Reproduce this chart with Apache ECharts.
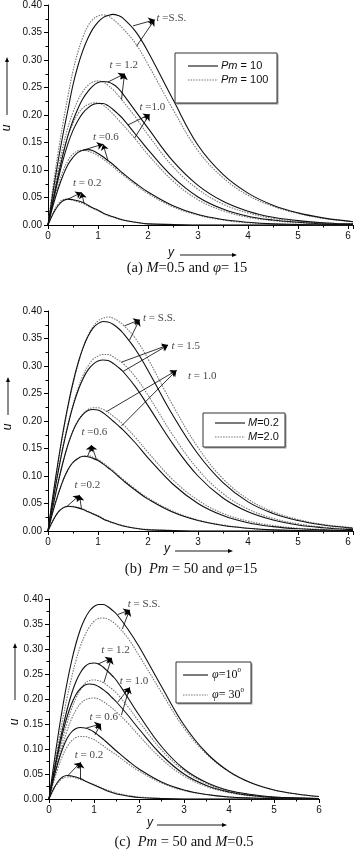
<!DOCTYPE html>
<html>
<head>
<meta charset="utf-8">
<script src="https://cdn.jsdelivr.net/npm/echarts@6/dist/echarts.min.js"></script>
<style>
html,body{margin:0;padding:0;background:#fff;}
#c{width:355px;height:850px;}
</style>
</head>
<body>
<div id="c"></div>
<script>
// ---- x grids (y coordinate) ----
const XAB = [0,0.1,0.2,0.3,0.4,0.5,0.6,0.7,0.8,0.9,1.0,1.1,1.2,1.3,1.4,1.5,1.75,2,2.5,3,3.5,4,4.5,5,5.5,6,6.1];
const XC  = [0,0.1,0.2,0.3,0.4,0.5,0.6,0.7,0.8,0.9,1.0,1.1,1.2,1.3,1.4,1.5,1.75,2,2.5,3,3.5,4,4.5,5,5.5,6];

// ---- panel (a): Pm = 10 (solid) vs Pm = 100 (dotted) ----
const a_ss_10  = [0,0.06,0.115,0.165,0.21,0.255,0.29,0.318,0.34,0.357,0.369,0.377,0.381,0.383,0.381,0.376,0.352,0.315,0.228,0.145,0.092,0.058,0.036,0.022,0.013,0.007,0.006];
const a_ss_100 = [0,0.07,0.13,0.185,0.235,0.28,0.315,0.342,0.362,0.374,0.38,0.382,0.38,0.374,0.366,0.357,0.33,0.292,0.21,0.135,0.086,0.054,0.034,0.021,0.012,0.007,0.006];
const a_12_10  = [0,0.045,0.088,0.128,0.163,0.19,0.212,0.23,0.243,0.253,0.259,0.261,0.26,0.256,0.249,0.238,0.207,0.176,0.116,0.072,0.043,0.025,0.014,0.008,0.004,0.002,0.002];
const a_12_100 = [0,0.052,0.1,0.143,0.178,0.205,0.227,0.243,0.254,0.26,0.262,0.26,0.254,0.246,0.236,0.225,0.196,0.164,0.106,0.065,0.038,0.022,0.012,0.007,0.004,0.002,0.002];
const a_10_10  = [0,0.042,0.082,0.118,0.148,0.172,0.19,0.204,0.213,0.219,0.221,0.221,0.217,0.21,0.202,0.193,0.165,0.137,0.087,0.051,0.029,0.016,0.009,0.005,0.002,0.001,0.001];
const a_10_100 = [0,0.048,0.093,0.132,0.162,0.185,0.202,0.213,0.219,0.222,0.222,0.218,0.211,0.202,0.192,0.182,0.156,0.128,0.08,0.046,0.026,0.014,0.008,0.004,0.002,0.001,0.001];
const a_06_10  = [0,0.035,0.065,0.09,0.11,0.123,0.132,0.136,0.137,0.135,0.13,0.124,0.117,0.11,0.102,0.094,0.076,0.06,0.035,0.019,0.01,0.005,0.002,0.001,0,0,0];
const a_06_100 = [0,0.04,0.072,0.098,0.117,0.129,0.135,0.136,0.134,0.131,0.126,0.12,0.113,0.106,0.098,0.091,0.073,0.057,0.033,0.018,0.009,0.004,0.002,0.001,0,0,0];
const a_02_10  = [0,0.02,0.035,0.044,0.047,0.046,0.044,0.041,0.036,0.031,0.027,0.022,0.018,0.015,0.012,0.009,0.005,0.002,0.001,0,0,0,0,0,0,0,0];
const a_02_100 = [0,0.022,0.038,0.046,0.047,0.045,0.042,0.039,0.034,0.03,0.026,0.021,0.017,0.014,0.011,0.009,0.005,0.002,0.001,0,0,0,0,0,0,0,0];

// ---- panel (b): M = 0.2 (solid) vs M = 2.0 (dotted) ----
const b_ss_02 = [0,0.065,0.125,0.18,0.228,0.27,0.305,0.333,0.354,0.369,0.377,0.381,0.38,0.376,0.369,0.36,0.33,0.292,0.21,0.14,0.088,0.053,0.032,0.019,0.011,0.006,0.005];
const b_ss_20 = [0,0.063,0.122,0.177,0.225,0.267,0.303,0.332,0.355,0.371,0.382,0.387,0.389,0.387,0.382,0.375,0.35,0.313,0.228,0.152,0.095,0.058,0.035,0.021,0.012,0.007,0.006];
const b_15_02 = [0,0.055,0.106,0.152,0.192,0.227,0.255,0.277,0.293,0.303,0.309,0.311,0.31,0.305,0.298,0.29,0.262,0.228,0.158,0.1,0.06,0.035,0.02,0.011,0.006,0.003,0.003];
const b_15_20 = [0,0.055,0.107,0.154,0.195,0.23,0.259,0.283,0.3,0.312,0.318,0.321,0.321,0.317,0.311,0.305,0.28,0.247,0.174,0.112,0.068,0.04,0.023,0.013,0.007,0.004,0.003];
const b_10_02 = [0,0.045,0.087,0.125,0.157,0.182,0.2,0.212,0.219,0.221,0.22,0.215,0.208,0.2,0.192,0.184,0.16,0.133,0.085,0.05,0.028,0.015,0.008,0.004,0.002,0.001,0.001];
const b_10_20 = [0,0.045,0.087,0.125,0.157,0.182,0.201,0.213,0.221,0.224,0.224,0.221,0.216,0.209,0.202,0.194,0.17,0.143,0.093,0.056,0.032,0.018,0.01,0.005,0.003,0.001,0.001];
const b_06_02 = [0,0.036,0.066,0.092,0.112,0.125,0.132,0.136,0.135,0.132,0.128,0.122,0.115,0.108,0.1,0.092,0.074,0.058,0.034,0.019,0.01,0.005,0.002,0.001,0,0,0];
const b_06_20 = [0,0.035,0.065,0.091,0.111,0.124,0.132,0.136,0.137,0.134,0.13,0.124,0.117,0.11,0.102,0.094,0.076,0.06,0.036,0.02,0.011,0.005,0.002,0.001,0,0,0];
const b_02_02 = [0,0.019,0.034,0.042,0.045,0.044,0.042,0.039,0.035,0.031,0.027,0.022,0.018,0.015,0.012,0.009,0.005,0.002,0.001,0,0,0,0,0,0,0,0];
const b_02_20 = [0,0.019,0.034,0.042,0.045,0.045,0.043,0.04,0.036,0.032,0.028,0.023,0.019,0.015,0.012,0.01,0.005,0.003,0.001,0,0,0,0,0,0,0,0];

// ---- panel (c): phi = 10 deg (solid) vs phi = 30 deg (dotted) ----
const c_ss_10 = [0,0.065,0.126,0.182,0.232,0.275,0.311,0.34,0.361,0.376,0.385,0.389,0.389,0.385,0.378,0.37,0.34,0.305,0.225,0.148,0.092,0.055,0.032,0.018,0.01,0.005];
const c_ss_30 = [0,0.055,0.108,0.157,0.202,0.242,0.277,0.306,0.328,0.344,0.355,0.361,0.362,0.36,0.355,0.348,0.322,0.287,0.213,0.142,0.09,0.055,0.032,0.018,0.01,0.005];
const c_12_10 = [0,0.05,0.097,0.14,0.178,0.21,0.235,0.253,0.265,0.271,0.272,0.27,0.264,0.256,0.247,0.237,0.203,0.168,0.105,0.06,0.033,0.017,0.009,0.004,0.002,0.001];
const c_12_30 = [0,0.042,0.082,0.119,0.152,0.18,0.202,0.219,0.231,0.237,0.238,0.237,0.233,0.227,0.22,0.212,0.185,0.155,0.098,0.057,0.031,0.016,0.008,0.004,0.002,0.001];
const c_10_10 = [0,0.047,0.091,0.131,0.164,0.19,0.209,0.221,0.228,0.23,0.229,0.225,0.219,0.212,0.203,0.194,0.168,0.14,0.088,0.05,0.027,0.014,0.007,0.003,0.002,0.001];
const c_10_30 = [0,0.038,0.074,0.107,0.136,0.16,0.178,0.191,0.198,0.201,0.202,0.2,0.195,0.189,0.182,0.174,0.152,0.127,0.08,0.046,0.025,0.013,0.006,0.003,0.001,0.001];
const c_06_10 = [0,0.04,0.073,0.1,0.121,0.134,0.141,0.143,0.142,0.139,0.134,0.127,0.12,0.112,0.104,0.096,0.077,0.06,0.034,0.018,0.009,0.004,0.002,0.001,0,0];
const c_06_30 = [0,0.033,0.062,0.086,0.104,0.116,0.123,0.125,0.125,0.122,0.119,0.113,0.107,0.1,0.094,0.088,0.071,0.056,0.032,0.017,0.009,0.004,0.002,0.001,0,0];
const c_02_10 = [0,0.02,0.035,0.044,0.047,0.046,0.044,0.041,0.036,0.032,0.028,0.024,0.02,0.016,0.013,0.01,0.006,0.003,0.001,0,0,0,0,0,0,0];
const c_02_30 = [0,0.018,0.032,0.041,0.044,0.044,0.042,0.039,0.036,0.032,0.029,0.025,0.021,0.018,0.015,0.012,0.007,0.004,0.001,0,0,0,0,0,0,0];

// ---- legend names & annotation texts ----
const legA = ['Pm = 10','Pm = 100'];
const legB = ['M=0.2','M=2.0'];
const legC = ['φ=10°','φ= 30°'];
const annTextA = ['t =S.S.','t = 1.2','t =1.0','t =0.6','t = 0.2'];
const annTextB = ['t = S.S.','t = 1.5','t = 1.0','t =0.6','t =0.2'];
const annTextC = ['t = S.S.','t = 1.2','t = 1.0','t = 0.6','t = 0.2'];

// annotation anchors in data space: [label point, arrow tip, from1, from2]
const annPosA = [
  [[2.17,0.376],[2.13,0.373],[1.70,0.362],[1.77,0.325]],
  [[1.23,0.290],[1.53,0.275],[1.20,0.260],[1.47,0.228]],
  [[1.83,0.214],[2.03,0.201],[1.60,0.182],[1.73,0.158]],
  [[0.90,0.160],[1.10,0.147],[0.70,0.136],[1.20,0.117]],
  [[0.50,0.077],[0.67,0.059],[0.40,0.047],[0.72,0.040]]
];
const annPosB = [
  [[1.90,0.387],[1.83,0.384],[1.53,0.373],[1.63,0.347]],
  [[2.47,0.336],[2.40,0.338],[1.47,0.307],[1.50,0.290]],
  [[2.80,0.282],[2.57,0.292],[1.17,0.217],[1.47,0.191]],
  [[0.67,0.180],[0.87,0.156],[0.80,0.137],[0.97,0.130]],
  [[0.53,0.084],[0.63,0.065],[0.37,0.044],[0.67,0.040]]
];
const annPosC = [
  [[1.75,0.390],[1.79,0.378],[1.53,0.369],[1.63,0.340]],
  [[1.16,0.298],[1.39,0.282],[1.09,0.270],[1.22,0.233]],
  [[1.57,0.235],[1.79,0.223],[1.53,0.194],[1.61,0.168]],
  [[0.90,0.163],[1.15,0.150],[0.83,0.142],[1.02,0.128]],
  [[0.57,0.087],[0.70,0.073],[0.42,0.047],[0.70,0.039]]
];

const SERIF = '"Liberation Serif","Times New Roman",serif';
const SANS = '"Liberation Sans",Arial,sans-serif';
const SOLID_C = '#111', DOT_C = '#777', DOT_DASH = [1.5,1.2];

function pts(xs, ys){ return xs.map((x,i)=>[x, ys[i]]); }
function line(name, gi, xs, ys, dotted){
  const col = dotted ? DOT_C : SOLID_C;
  return {
    type:'line', name:name, xAxisIndex:gi, yAxisIndex:gi,
    data: pts(xs, ys), symbol:'none', showSymbol:false, smooth:0.4,
    silent:true, animation:false, z: dotted?3:4,
    lineStyle:{color:col, width:1.1, type: dotted?DOT_DASH:'solid'},
    itemStyle:{color:col}
  };
}
function annSeries(gi, texts, pos){
  return [{
    type:'scatter', xAxisIndex:gi, yAxisIndex:gi, symbolSize:0, silent:true, animation:false, z:6,
    data: pos.map((p,i)=>[p[0][0], p[0][1], texts[i]]),
    label:{show:true, position:[0,0], align:'left', verticalAlign:'middle',
      formatter: p => p.data[2].replace(/^t/, '{i|t}'),
      fontFamily:SERIF, fontSize:11, color:'#111',
      rich:{i:{fontStyle:'italic', fontFamily:SERIF, fontSize:11, color:'#111'}}}
  },{
    type:'line', xAxisIndex:gi, yAxisIndex:gi, data:[], silent:true, animation:false, z:6,
    markLine:{silent:true, animation:false, symbol:['none','arrow'], symbolSize:6,
      label:{show:false}, lineStyle:{color:'#000', width:0.8, type:'solid'},
      data: pos.flatMap(p => [[{coord:p[2]},{coord:p[1]}],[{coord:p[3]},{coord:p[1]}]])}
  }];
}

function xAxis(gi, max){
  return {type:'value', gridIndex:gi, min:0, max:max, interval:1,
    axisLine:{show:true, onZero:false, lineStyle:{color:'#000', width:1}},
    axisTick:{show:true, length:4, lineStyle:{color:'#000'}},
    minorTick:{show:true, splitNumber:2, length:2.5, lineStyle:{color:'#000'}},
    splitLine:{show:false},
    axisLabel:{fontFamily:SANS, fontSize:10, color:'#111', margin:6, showMaxLabel: max===6,
      formatter: v => (Math.abs(v-Math.round(v))<1e-6 ? String(Math.round(v)) : '')}
  };
}
function yAxis(gi){
  return {type:'value', gridIndex:gi, min:0, max:0.4, interval:0.05,
    axisLine:{show:true, onZero:false, lineStyle:{color:'#000', width:1}},
    axisTick:{show:true, length:4, lineStyle:{color:'#000'}},
    minorTick:{show:true, splitNumber:2, length:2.5, lineStyle:{color:'#000'}},
    splitLine:{show:false},
    axisLabel:{fontFamily:SANS, fontSize:10, color:'#111', margin:6, formatter: v => v.toFixed(2)}
  };
}

function legFmt(name){
  return name.replace('Pm','{i|Pm}').replace(/^M/,'{i|M}').replace('φ','{p|φ}').replace('°','{s|0}');
}
const legRich = {
  i:{fontStyle:'italic', fontFamily:SANS, fontSize:11, fill:'#111'},
  p:{fontStyle:'italic', fontFamily:SERIF, fontSize:12, fill:'#111'},
  s:{fontFamily:SERIF, fontSize:7, fill:'#111', padding:[0,0,9,0]}
};
// legend box drawn with graphic: box rect, sample lines, texts
function legendBox(names, box, lx1, lx2, tx, ys, font, fsz){
  const els = [
    {type:'rect', shape:{x:box[0]+1.5, y:box[1]+1.5, width:box[2], height:box[3]}, style:{fill:'#999'}, z:10},
    {type:'rect', shape:{x:box[0], y:box[1], width:box[2], height:box[3]}, style:{fill:'#fff', stroke:'#333', lineWidth:1}, z:11}
  ];
  names.forEach((n,i)=>{
    els.push({type:'line', shape:{x1:lx1, y1:ys[i], x2:lx2, y2:ys[i]}, z:12,
      style:{stroke: i===0?SOLID_C:DOT_C, lineWidth:1.1, lineDash: i===0?null:DOT_DASH}});
    els.push({type:'text', x:tx, y:ys[i], z:12, style:{text:legFmt(n), fontFamily:font, fontSize:fsz, fill:'#111',
      textAlign:'left', textVerticalAlign:'middle', rich:legRich}});
  });
  return els;
}

function upArrow(x, y1, y2){
  return [
    {type:'line', shape:{x1:x, y1:y1, x2:x, y2:y2+4}, style:{stroke:'#000', lineWidth:0.9}},
    {type:'polygon', shape:{points:[[x-2,y2+5],[x+2,y2+5],[x,y2]]}, style:{fill:'#000'}}
  ];
}
function rightArrow(x1, x2, y){
  return [
    {type:'line', shape:{x1:x1, y1:y, x2:x2-4, y2:y}, style:{stroke:'#000', lineWidth:0.9}},
    {type:'polygon', shape:{points:[[x2-5,y-2],[x2-5,y+2],[x2,y]]}, style:{fill:'#000'}}
  ];
}
function txt(x, y, text, font, size){
  return {type:'text', x:x, y:y, style:{text:text, fontFamily:font, fontSize:size, fill:'#111',
    textAlign:'center', textVerticalAlign:'middle',
    rich:{i:{fontStyle:'italic', fontFamily:SERIF, fontSize:size, fill:'#111'}}}};
}
function axName(x, y, t, rotate){
  return {type:'text', x:x, y:y, rotation: rotate?Math.PI/2:0,
    style:{text:t, fontFamily:SANS, fontStyle:'italic', fontSize:12, fill:'#111', textAlign:'center', textVerticalAlign:'middle'}};
}

const grids = [
  {left:48, top:5, width:305, height:220},
  {left:48, top:311, width:305, height:220},
  {left:49, top:599, width:270, height:200}
];

const series = [
  line(legA[0],0,XAB,a_ss_10,false), line(legA[1],0,XAB,a_ss_100,true),
  line(legA[0],0,XAB,a_12_10,false), line(legA[1],0,XAB,a_12_100,true),
  line(legA[0],0,XAB,a_10_10,false), line(legA[1],0,XAB,a_10_100,true),
  line(legA[0],0,XAB,a_06_10,false), line(legA[1],0,XAB,a_06_100,true),
  line(legA[0],0,XAB,a_02_10,false), line(legA[1],0,XAB,a_02_100,true),
  line(legB[0],1,XAB,b_ss_02,false), line(legB[1],1,XAB,b_ss_20,true),
  line(legB[0],1,XAB,b_15_02,false), line(legB[1],1,XAB,b_15_20,true),
  line(legB[0],1,XAB,b_10_02,false), line(legB[1],1,XAB,b_10_20,true),
  line(legB[0],1,XAB,b_06_02,false), line(legB[1],1,XAB,b_06_20,true),
  line(legB[0],1,XAB,b_02_02,false), line(legB[1],1,XAB,b_02_20,true),
  line(legC[0],2,XC,c_ss_10,false), line(legC[1],2,XC,c_ss_30,true),
  line(legC[0],2,XC,c_12_10,false), line(legC[1],2,XC,c_12_30,true),
  line(legC[0],2,XC,c_10_10,false), line(legC[1],2,XC,c_10_30,true),
  line(legC[0],2,XC,c_06_10,false), line(legC[1],2,XC,c_06_30,true),
  line(legC[0],2,XC,c_02_10,false), line(legC[1],2,XC,c_02_30,true),
  ...annSeries(0, annTextA, annPosA),
  ...annSeries(1, annTextB, annPosB),
  ...annSeries(2, annTextC, annPosC)
];

const graphic = [
  axName(7,128,'u',true), ...upArrow(7,115,57),
  axName(171,253,'y',false), ...rightArrow(180,237,255),
  txt(187,268,'(a) {i|M}=0.5 and {i|φ}= 15', SERIF, 14.5),
  axName(8,427,'u',true), ...upArrow(8,415,377),
  axName(167,549,'y',false), ...rightArrow(175,233,551),
  txt(191,569,'(b)  {i|Pm} = 50 and {i|φ}=15', SERIF, 14.5),
  axName(15,722,'u',true), ...upArrow(15,700,643),
  axName(150,823,'y',false), ...rightArrow(157,227,825),
  txt(184,842,'(c)  {i|Pm} = 50 and {i|M}=0.5', SERIF, 14.5),
  ...legendBox(legA, [175,53,102,50], 188, 218, 221, [66,80], SANS, 11),
  ...legendBox(legB, [203,413,82,34], 215, 245, 248, [423,437], SANS, 11),
  ...legendBox(legC, [176,662,75,41], 183, 208, 212, [675,695], SERIF, 12)
];

const chart = echarts.init(document.getElementById('c'), null, {renderer:'canvas'});
chart.setOption({
  animation:false,
  backgroundColor:'#fff',
  grid: grids,
  xAxis: [xAxis(0,6.1), xAxis(1,6.1), xAxis(2,6)],
  yAxis: [yAxis(0), yAxis(1), yAxis(2)],
  series: series,
  graphic: graphic
});
</script>
</body>
</html>
